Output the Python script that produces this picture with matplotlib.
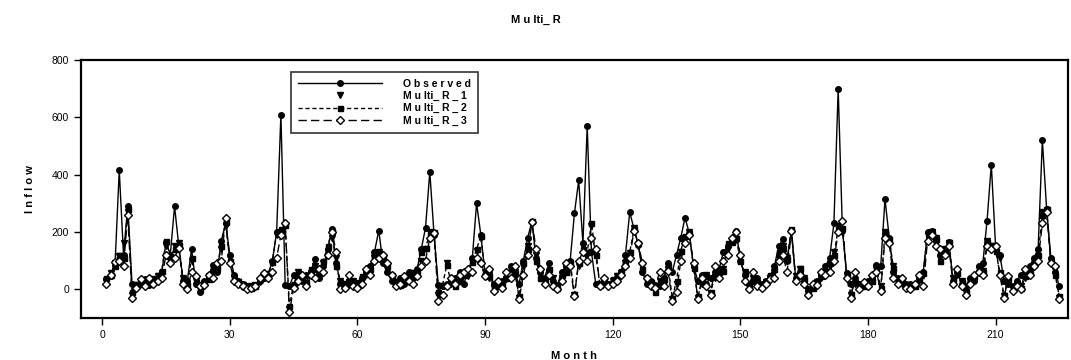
import numpy as np
import matplotlib.pyplot as plt

plt.rcParams['font.family'] = ['Liberation Sans', 'DejaVu Sans']

# ---------- data ---------- #
months = list(range(1, 226))

observed = [
    35, 45, 85, 415, 120, 290, 20, 10, 25, 35, 15, 30,
    40, 60, 165, 120, 290, 150, 30, 30, 140, 20, -10, 30,
    40, 85, 60, 170, 230, 120, 50, 30, 20, 10, 10, 10,
    30, 40, 50, 100, 200, 610, 15, 10, 50, 40, 30, 50,
    60, 105, 40, 80, 140, 210, 90, 20, 15, 30, 20, 10,
    40, 60, 80, 130, 205, 90, 60, 30, 20, 40, 20, 60,
    40, 70, 140, 215, 410, 190, 15, 10, 20, 30, 40, 60,
    20, 60, 110, 300, 190, 50, 60, 20, 10, 30, 40, 80,
    50, 20, 100, 180, 235, 110, 60, 40, 90, 30, 15, 60,
    80, 100, 265, 380, 160, 570, 130, 20, 15, 30, 20, 25,
    40, 60, 120, 270, 210, 155, 60, 20, 30, 15, 10, 40,
    90, 60, 120, 180, 250, 195, 80, 30, 50, 20, 40, 60,
    70, 130, 150, 175, 205, 100, 50, 20, 30, 40, 20, 30,
    45, 80, 150, 175, 100, 205, 40, 60, 30, 0, 15, 30,
    50, 80, 110, 230, 700, 205, 55, 20, 40, 20, 20, 30,
    40, 85, 80, 315, 180, 60, 40, 30, 20, 20, 10, 40,
    60, 200, 205, 170, 120, 130, 165, 30, 60, 20, 10, 40,
    30, 80, 90, 240, 435, 150, 120, 30, 20, 10, 30, 50,
    60, 80, 110, 140, 520, 280, 110, 60, 10,
]

multi_r_1 = [
    30, 55, 90, 115, 160, 270, -20, 15, 30, 20, 25, 35,
    45, 55, 150, 100, 150, 160, 40, 10, 100, 30, 5, 20,
    45, 60, 80, 140, 220, 110, 40, 25, 15, 5, 10, 15,
    25, 50, 45, 90, 190, 200, 220, -70, 10, 60, 40, 20,
    55, 80, 60, 90, 130, 180, 110, 30, 20, 25, 30, 20,
    30, 50, 75, 110, 130, 110, 85, 45, 25, 10, 35, 45,
    55, 60, 100, 140, 200, 185, -20, 10, 90, 20, 15, 35,
    55, 45, 100, 135, 180, 60, 40, 5, 15, 25, 35, 70,
    60, -30, 80, 150, 230, 120, 50, 30, 60, 40, 10, 40,
    70, 90, -20, 80, 150, 120, 220, 130, 20, 25, 15, 30,
    45, 55, 90, 125, 215, 150, 80, 35, 20, 0, 30, 20,
    70, -35, 20, 130, 180, 200, 70, -30, 20, 50, -15, 40,
    50, 70, 140, 170, 175, 110, 60, 10, 40, 20, 10, 25,
    40, 60, 110, 150, 110, 200, 45, 70, 40, -15, 10, 25,
    40, 60, 80, 130, 220, 200, 50, -20, 20, 10, 15, 20,
    35, 70, 10, 200, 170, 80, 30, 20, 10, 5, 15, 30,
    50, 190, 200, 180, 110, 140, 160, 40, 50, 30, -10, 30,
    40, 70, 65, 170, 150, 140, 110, -25, 40, 0, 15, 10,
    40, 60, 100, 130, 270, 275, 100, 70, -30,
]

multi_r_2 = [
    40, 50, 80, 120, 110, 280, -10, 20, 20, 30, 30, 25,
    50, 65, 170, 115, 140, 155, 35, 15, 110, 25, 0, 25,
    35, 70, 75, 150, 235, 100, 35, 30, 10, 10, 5, 10,
    35, 45, 55, 95, 200, 210, 225, -60, 20, 55, 35, 25,
    70, 70, 55, 100, 150, 205, 80, 25, 10, 20, 15, 25,
    45, 55, 70, 120, 125, 115, 80, 40, 30, 15, 30, 50,
    60, 65, 130, 145, 195, 200, -10, 15, 85, 25, 10, 30,
    50, 60, 95, 140, 185, 55, 45, 10, 20, 20, 40, 75,
    55, -25, 90, 140, 240, 100, 40, 35, 70, 20, 5, 50,
    60, 95, -15, 90, 140, 130, 230, 120, 15, 30, 20, 35,
    50, 65, 100, 130, 210, 160, 70, 30, 25, -10, 25, 35,
    80, -30, 30, 135, 185, 195, 75, -25, 25, 45, -10, 45,
    60, 65, 160, 165, 180, 100, 55, 15, 35, 25, 15, 30,
    50, 70, 130, 145, 105, 210, 40, 75, 35, -10, 5, 30,
    45, 65, 90, 120, 210, 215, 45, -15, 25, 15, 10, 25,
    30, 75, 5, 195, 175, 75, 35, 25, 15, 10, 10, 35,
    55, 195, 195, 175, 100, 135, 165, 35, 55, 25, -5, 35,
    45, 75, 60, 165, 155, 135, 60, -20, 35, 5, 20, 5,
    45, 65, 90, 120, 260, 280, 95, 50, -25,
]

multi_r_3 = [
    20, 50, 95, 100, 80, 260, -30, 5, 35, 10, 40, 20,
    30, 40, 120, 90, 110, 145, 20, 0, 60, 45, 10, 15,
    50, 40, 90, 100, 250, 90, 30, 20, 10, 0, 5, 10,
    40, 55, 40, 60, 110, 190, 230, -80, 5, 30, 50, 10,
    50, 40, 70, 60, 120, 200, 130, 0, 5, 50, 10, 5,
    20, 70, 50, 100, 110, 120, 90, 50, 10, 20, 45, 30,
    20, 45, 80, 100, 180, 195, -40, -20, 10, 40, 20, 50,
    60, 70, 60, 110, 90, 45, 70, -5, 30, 5, 60, 40,
    80, -35, 50, 120, 235, 140, 70, 20, 50, 10, 0, 30,
    90, 80, -25, 100, 130, 100, 180, 140, 10, 40, 10, 20,
    30, 50, 80, 110, 205, 160, 90, 40, 10, 5, 60, 10,
    65, -40, -10, 100, 160, 190, 90, -35, 40, 10, -20, 80,
    40, 100, 120, 180, 200, 120, 30, 0, 60, 10, 5, 20,
    35, 40, 100, 120, 60, 205, 30, 50, 20, -20, 20, 15,
    60, 50, 60, 100, 200, 240, 40, -30, 60, 0, 25, 10,
    50, 60, -5, 180, 160, 40, 20, 40, 5, 0, 20, 50,
    10, 170, 190, 150, 140, 120, 150, 20, 70, 10, -20, 20,
    50, 60, 50, 150, 140, 150, 50, -30, 45, -5, 10, 0,
    70, 50, 80, 100, 230, 270, 90, 80, -35,
]

# ---------- plot ---------- #
fig = plt.figure(figsize=(10.71, 3.6), dpi=100)
ax = fig.add_axes([0.0756, 0.117, 0.9215, 0.716])

ax.plot(months, observed, '-', color='black', lw=1.0, marker='o', ms=4,
        mfc='black', mec='black', label='O b s e r v e d', zorder=5)
ax.plot(months, multi_r_1, linestyle='none', marker='v', ms=4,
        mfc='black', mec='black', label='M u lti_ R _ 1', zorder=4)
ax.plot(months, multi_r_2, '--', color='black', lw=1.0, marker='s', ms=3.6,
        mfc='black', mec='black', dashes=(3, 2), label='M u lti_ R _ 2', zorder=3)
ax.plot(months, multi_r_3, '--', color='black', lw=1.0, marker='D', ms=3.6,
        mfc='white', mec='black', mew=1.0, dashes=(6, 3), label='M u lti_ R _ 3', zorder=6)

ax.set_xlim(-5, 227)
ax.set_ylim(-100, 800)
ax.set_xticks(range(0, 211, 30))
ax.set_yticks(range(0, 801, 200))
ax.tick_params(direction='out', length=5, width=1, labelsize=7.5)
for s in ax.spines.values():
    s.set_linewidth(1.6)

ax.set_xlabel('M o n t h', fontsize=8, fontweight='bold', labelpad=8)
ax.set_ylabel('I n f l o w', fontsize=8, fontweight='bold', labelpad=12)
fig.suptitle('M u lti_ R', fontsize=8, fontweight='bold', y=0.96)

leg = ax.legend(loc='upper left', bbox_to_anchor=(0.213, 0.955), fontsize=7.5,
                handlelength=8, frameon=True, fancybox=False, borderpad=0.7,
                labelspacing=0.2, handletextpad=2.0, borderaxespad=0)
leg.get_frame().set_edgecolor('black')
leg.get_frame().set_linewidth(1.2)
for t in leg.get_texts():
    t.set_fontweight('bold')

fig.savefig('out.png', dpi=100)
